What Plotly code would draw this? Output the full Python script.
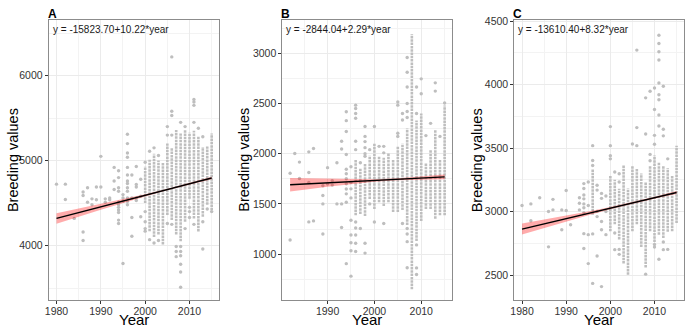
import plotly.graph_objects as go

# ---------------- data ----------------
# Panel A
a_pts = {
    1980: [4723], 1982: [4723, 4542], 1984: [4320],
    1986: [4630, 4590, 4160, 4060], 1987: [4680, 4510], 1988: [4550, 4480],
    1989: [4690, 4540], 1990: [5050, 4690], 1991: [4550, 4510], 1992: [4560, 4540],
    1993: [4920, 4760, 4660],
    1994: [4880, 4800, 4680, 4640, 4510, 4480, 4450, 4420, 4390, 4300, 4260],
    1995: [4600, 4560, 4520, 3790],
    1996: [5310, 5200, 5090, 5040, 4920, 4830, 4760, 4730, 4680, 4640, 4560, 4520, 4480],
    1997: [4830, 4560, 4330, 4110], 1998: [4930, 4720, 4690, 4560, 4530],
    1999: [4780, 4580, 4340], 2000: [4980, 4400, 4280, 4200, 4170],
    2001: [5110, 4070], 2002: [5150, 4030], 2003: [5060, 4060],
    2005: [5400, 5300, 4260], 2006: [6220, 5580, 5530, 5300, 4250],
    2007: [3990, 3930, 3870], 2008: [5450, 3990, 3930, 3880, 3780, 3690, 3510],
    2009: [5400, 4200], 2010: [4450, 4400, 4330],
    2011: [5720, 5690, 5650, 5450, 4250], 2012: [5380], 2013: [5280, 4280, 3960],
    2014: [4430], 2015: [4400],
}
a_col_year = [2000, 2001, 2002, 2003, 2004, 2005, 2006, 2007, 2008, 2009, 2010, 2011, 2012, 2013, 2014, 2015]
a_col_lo = [4500, 4170, 4100, 4130, 4012, 4360, 4300, 4130, 4050, 4280, 4550, 4320, 4165, 4340, 4480, 4415]
a_col_hi = [4930, 5010, 5080, 5000, 4973, 5200, 5150, 5360, 5320, 5360, 5330, 5350, 5280, 5160, 5165, 5320]
a_fit_year = [1980, 2015]
a_fit_val = [4320, 4795]
a_band_year = [1980, 1985, 1990, 1995, 2000, 2005, 2010, 2015]
a_band_lo = [4258, 4340, 4422, 4502, 4578, 4650, 4717, 4781]
a_band_hi = [4382, 4436, 4490, 4546, 4604, 4668, 4737, 4809]
a_eq = "y = -15823.70+10.22*year"

# Panel B
b_pts = {
    1982: [1805, 1141], 1983: [2002], 1984: [1916, 1753],
    1986: [2018, 1812, 1713, 1321], 1987: [2051, 1331],
    1989: [1681, 1583, 1500, 1200], 1990: [1861, 1697], 1991: [1730, 1687],
    1992: [1910, 1500], 1993: [2123, 2047, 1500, 1265],
    1994: [2417, 2329, 2221, 1992, 1845, 1800, 1750, 1700, 1648, 1600, 1517, 905],
    1995: [1870, 1713, 1650, 1560, 1337, 1190, 1114, 1033, 781],
    1996: [2483, 2450, 2400, 2352, 2123, 2040, 1320, 1260, 1190, 1108, 1026],
    1997: [1910, 1255], 1998: [2270, 2172, 2120, 2060, 2000, 1975, 1108, 1010],
    1999: [2040, 1500], 2000: [2270, 1320], 2001: [2073], 2002: [2073, 2008, 1305],
    2005: [2515, 2483, 2204, 2172], 2006: [2400, 2335, 1305],
    2007: [2957, 2810, 2663, 2500, 2420, 2360, 1255, 1200, 1124, 864],
    2009: [2663, 2400, 1092, 863, 797], 2010: [2745, 2597], 2011: [2180],
    2012: [2302], 2013: [2705, 2623], 2014: [2172], 2015: [2505],
}
b_col_year = [1996, 1997, 1998, 1999, 2000, 2001, 2002, 2003, 2004, 2005, 2006, 2007, 2008, 2009, 2010, 2011, 2012, 2013, 2014, 2015]
b_col_lo = [1386, 1400, 1380, 1550, 1450, 1517, 1480, 1517, 1419, 1419, 1440, 1290, 650, 1130, 1330, 1450, 1450, 1353, 1386, 1386]
b_col_hi = [1943, 1850, 1900, 1980, 2106, 1975, 1960, 2010, 1943, 2073, 2100, 2250, 3190, 2330, 2400, 1910, 2040, 2237, 1943, 2480]
b_fit_year = [1982, 2015]
b_fit_val = [1691, 1769]
b_band_year = [1982, 1985, 1990, 1995, 2000, 2005, 2010, 2015]
b_band_lo = [1623, 1640, 1670, 1698, 1720, 1735, 1743, 1746]
b_band_hi = [1759, 1756, 1750, 1746, 1746, 1755, 1771, 1792]
b_eq = "y = -2844.04+2.29*year"

# Panel C
c_pts = {
    1980: [3047], 1982: [3060, 2927], 1984: [3109], 1986: [3000, 2722],
    1987: [3096, 3013], 1989: [3013, 2857], 1990: [3166, 3008], 1991: [2896],
    1993: [3109, 3065, 3013],
    1994: [3220, 3182, 3130, 3100, 3060, 3030, 2990, 2826, 2709],
    1995: [3233, 3047, 2818, 2590], 1996: [3519, 3402, 3363, 2824, 2434],
    1997: [3207, 3169, 3000, 2960, 2650], 1998: [3143, 3104, 2922, 2857, 2409],
    1999: [3122, 3000, 2818], 2000: [3669, 3519, 3440, 3415],
    2001: [3311, 2831, 2700], 2002: [3298, 3233, 2702, 2663], 2005: [3532],
    2006: [4271, 3661, 3519], 2008: [3895, 3610, 2507], 2009: [3947, 3450, 3400],
    2010: [3973, 3804, 3600, 3530, 2740, 2720],
    2011: [4388, 4323, 4258, 4193, 4012, 3920, 3880, 3760, 3674, 2624],
    2012: [3986, 3648, 3596, 2760, 2700], 2013: [3415, 2702],
}
c_col_year = [1996, 2000, 2001, 2002, 2003, 2004, 2005, 2006, 2007, 2008, 2009, 2010, 2011, 2012, 2013, 2014, 2015]
c_col_lo = [2974, 2844, 2900, 2780, 2590, 2502, 2844, 2900, 2720, 2560, 2844, 2760, 2818, 2792, 2840, 2844, 2909]
c_col_hi = [3337, 3285, 3250, 3180, 3363, 3182, 3363, 3340, 3300, 3233, 3363, 3441, 3389, 3363, 3340, 3285, 3519]
c_fit_year = [1980, 2015]
c_fit_val = [2862, 3150]
c_band_year = [1980, 1985, 1990, 1995, 2000, 2005, 2010, 2015]
c_band_lo = [2819, 2870, 2921, 2970, 3018, 3061, 3101, 3138]
c_band_hi = [2905, 2936, 2967, 3000, 3036, 3075, 3117, 3162]
c_eq = "y = -13610.40+8.32*year"

panel_labels = ["A", "B", "C"]
x_title = "Year"
y_title = "Breeding values"

# ---------------- layout geometry ----------------
W, H = 685, 329
plot_left = [45, 280, 513.3]
plot_right = [216.7, 451, 684.3]
plot_top, plot_bottom = 15, 300
ytitle_x = [9, 242, 476]

x_ranges = [[1978.25, 2016.75], [1980.35, 2016.65], [1978.25, 2016.75]]
y_ranges = [[3355, 6657], [539, 3333], [2300, 4510]]
x_dtick = [10, 10, 10]
y_tick0 = [4000, 1000, 2500]
y_dtick = [1000, 500, 500]

panels = [
    dict(pts=a_pts, cy=a_col_year, clo=a_col_lo, chi=a_col_hi, fy=a_fit_year, fv=a_fit_val,
         by=a_band_year, blo=a_band_lo, bhi=a_band_hi, eq=a_eq),
    dict(pts=b_pts, cy=b_col_year, clo=b_col_lo, chi=b_col_hi, fy=b_fit_year, fv=b_fit_val,
         by=b_band_year, blo=b_band_lo, bhi=b_band_hi, eq=b_eq),
    dict(pts=c_pts, cy=c_col_year, clo=c_col_lo, chi=c_col_hi, fy=c_fit_year, fv=c_fit_val,
         by=c_band_year, blo=c_band_lo, bhi=c_band_hi, eq=c_eq),
]

FONT = "Liberation Sans, Arial, sans-serif"
PT_COLOR = "#BEBEBE"

fig = go.Figure()
annotations = []
layout_axes = {}
y_dom = [(H - plot_bottom) / H, (H - plot_top) / H]

for i, p in enumerate(panels):
    sfx = "" if i == 0 else str(i + 1)
    xa, ya = "x" + sfx, "y" + sfx

    # dense stacks of points drawn as vertical (dotted-looking) segments
    cx, cyv = [], []
    for yr, lo, hi in zip(p["cy"], p["clo"], p["chi"]):
        cx += [yr, yr, None]
        cyv += [lo, hi, None]
    fig.add_trace(go.Scatter(x=cx, y=cyv, mode="lines",
                             line=dict(color=PT_COLOR, width=2.6, dash="2.5px,0.8px"),
                             xaxis=xa, yaxis=ya, hoverinfo="skip", showlegend=False))
    # individual points
    px, py = [], []
    for yr, vals in p["pts"].items():
        px += [yr] * len(vals)
        py += vals
    fig.add_trace(go.Scatter(x=px, y=py, mode="markers",
                             marker=dict(color=PT_COLOR, size=3.4, line=dict(width=0)),
                             xaxis=xa, yaxis=ya, showlegend=False))
    # confidence band
    fig.add_trace(go.Scatter(x=p["by"] + p["by"][::-1], y=p["bhi"] + p["blo"][::-1],
                             fill="toself", fillcolor="rgba(255,0,0,0.33)", mode="lines",
                             line=dict(width=0), xaxis=xa, yaxis=ya, showlegend=False,
                             hoverinfo="skip"))
    # fitted line
    fig.add_trace(go.Scatter(x=p["fy"], y=p["fv"], mode="lines",
                             line=dict(color="black", width=1.4),
                             xaxis=xa, yaxis=ya, showlegend=False))

    x_dom = [plot_left[i] / W, plot_right[i] / W]
    layout_axes["xaxis" + sfx] = dict(
        domain=x_dom, range=x_ranges[i], anchor=ya, tick0=1980, dtick=x_dtick[i],
        showgrid=True, gridcolor="#EBEBEB", gridwidth=1,
        minor=dict(dtick=5, tick0=1980, showgrid=True, gridcolor="#F3F3F3", gridwidth=0.7, ticks=""),
        showline=True, linecolor="#8C8C8C", linewidth=1, mirror=True,
        ticks="outside", ticklen=3, tickcolor="#333333", tickwidth=1,
        tickfont=dict(family=FONT, size=10.5, color="#333333"), zeroline=False,
        ticklabelstandoff=-2,
    )
    layout_axes["yaxis" + sfx] = dict(
        domain=y_dom, range=y_ranges[i], anchor=xa, tick0=y_tick0[i], dtick=y_dtick[i],
        showgrid=True, gridcolor="#EBEBEB", gridwidth=1,
        minor=dict(dtick=y_dtick[i] / 2, tick0=y_tick0[i], showgrid=True, gridcolor="#F3F3F3",
                   gridwidth=0.7, ticks=""),
        showline=True, linecolor="#8C8C8C", linewidth=1, mirror=True,
        ticks="outside", ticklen=3, tickcolor="#333333", tickwidth=1,
        tickfont=dict(family=FONT, size=10.5, color="#333333"), zeroline=False,
    )

    # equation text
    annotations.append(dict(xref=xa + " domain", yref=ya + " domain", x=0.012, y=0.965,
                            xanchor="left", yanchor="middle", text=p["eq"], showarrow=False,
                            font=dict(family=FONT, size=10, color="#1A1A1A")))
    # panel label
    annotations.append(dict(xref="paper", yref="paper", x=(plot_left[i] - 3) / W, y=(H - 9) / H,
                            xanchor="left", yanchor="middle", text="<b>%s</b>" % panel_labels[i],
                            showarrow=False, font=dict(family=FONT, size=12, color="black")))
    # axis titles
    annotations.append(dict(xref="paper", yref="paper",
                            x=(plot_left[i] + plot_right[i]) / 2 / W, y=0,
                            xanchor="center", yanchor="bottom", text=x_title, showarrow=False,
                            borderpad=0,
                            font=dict(family=FONT, size=15, color="black")))
    annotations.append(dict(xref="paper", yref="paper", x=ytitle_x[i] / W,
                            y=(H - (plot_top + plot_bottom) / 2) / H,
                            xanchor="center", yanchor="middle", text=y_title, textangle=-90,
                            showarrow=False, font=dict(family=FONT, size=14.5, color="black")))

fig.update_layout(
    width=W, height=H, margin=dict(l=0, r=0, t=0, b=0),
    paper_bgcolor="white", plot_bgcolor="white", showlegend=False,
    annotations=annotations, **layout_axes,
)

fig.write_html("out.html", config={"displayModeBar": False},
               post_script="document.body.style.margin='0';document.body.style.overflow='hidden';")
